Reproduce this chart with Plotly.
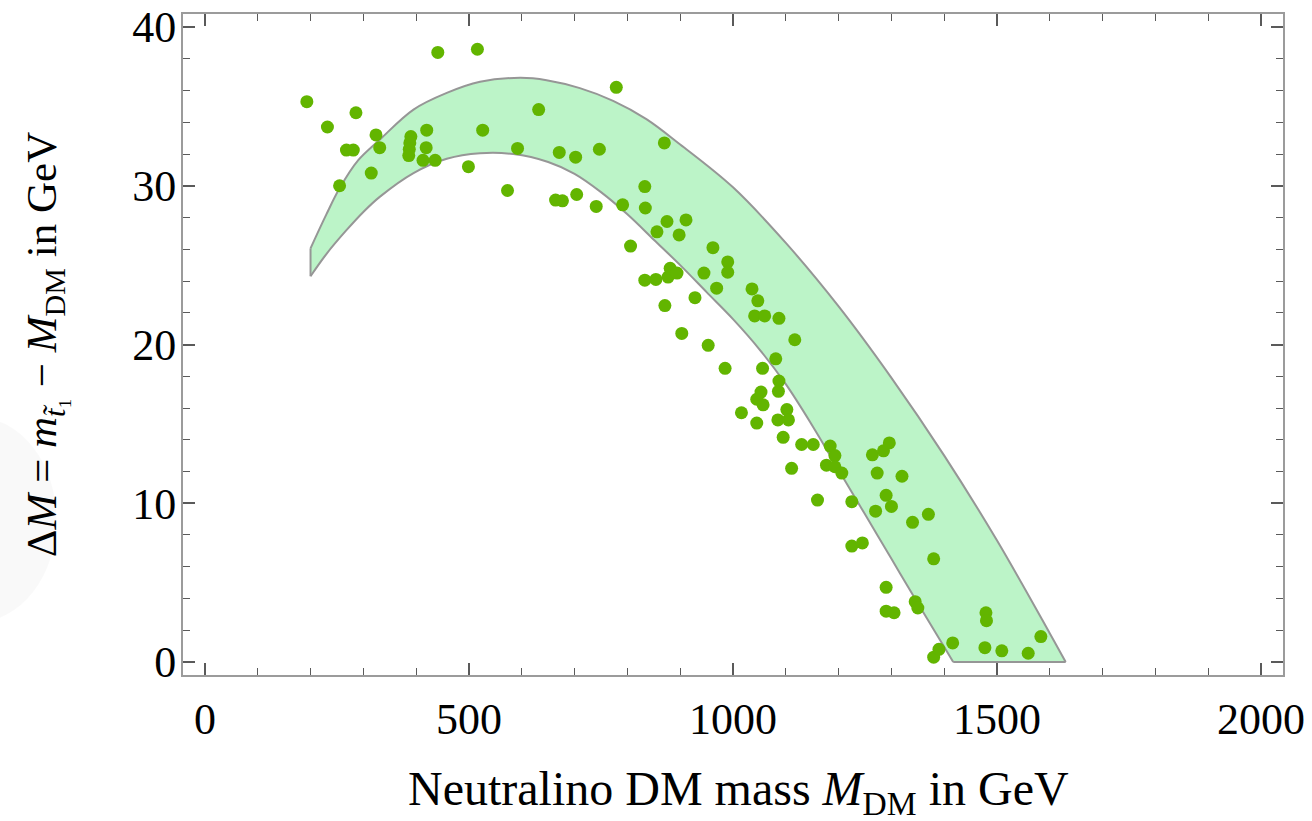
import plotly.graph_objects as go

# ---- scatter data (neutralino DM mass in GeV, mass splitting in GeV) ----
dm_mass = [193, 232, 286, 441, 516, 268, 281, 324, 331, 255, 315,
           390, 388, 387, 386, 420, 419, 413, 436, 499, 526, 573, 592,
           632, 671, 702, 747, 779, 664, 677, 704, 741, 791, 833, 834,
           870, 875, 911, 856, 898, 806, 962, 990, 990, 945, 833, 854,
           877, 881, 894, 969, 1036, 1047, 1041, 1060, 1087, 928, 871,
           903, 1117, 953, 985, 1081, 1056, 1087, 1086, 1053, 1045, 1057,
           1016, 1045, 1102, 1085, 1105, 1095, 1130, 1152, 1184, 1193,
           1264, 1285, 1296, 1111, 1177, 1193, 1206, 1273, 1320,
           1160, 1225, 1245, 1225, 1270, 1290, 1300, 1340, 1370, 1380,
           1290, 1290, 1305, 1345, 1350, 1380, 1390, 1416, 1477, 1479,
           1480, 1509, 1559, 1583]
delta_m = [35.3, 33.7, 34.6, 38.4, 38.6, 32.25, 32.25, 33.2, 32.4, 30.0, 30.8,
           33.1, 32.7, 32.3, 31.9, 33.5, 32.4, 31.6, 31.6, 31.2, 33.5, 29.7, 32.35,
           34.8, 32.1, 31.8, 32.3, 36.2, 29.1, 29.05, 29.45, 28.7, 28.8, 29.95, 28.6,
           32.7, 27.75, 27.85, 27.1, 26.9, 26.2, 26.1, 25.2, 24.55, 24.5, 24.05, 24.1,
           24.25, 24.8, 24.5, 23.55, 23.5, 22.75, 21.8, 21.8, 21.65, 22.95, 22.45,
           20.7, 20.3, 19.95, 18.5, 19.1, 18.5, 17.7, 17.05, 17.0, 16.55, 16.2,
           15.7, 15.05, 15.9, 15.25, 15.25, 14.15, 13.7, 13.7, 13.6, 13.0,
           13.05, 13.3, 13.8, 12.2, 12.4, 12.3, 11.9, 11.9, 11.7,
           10.2, 7.3, 7.5, 10.1, 9.5, 10.5, 9.8, 8.8, 9.3, 6.5,
           4.7, 3.2, 3.1, 3.8, 3.4, 0.3, 0.8, 1.2, 0.9, 3.1,
           2.6, 0.7, 0.55, 1.6]

# ---- allowed band (upper and lower edges) ----
band_upper_x = [200, 230, 256, 290, 331, 395, 458, 521, 597, 647, 710, 773, 836, 900,
                1000, 1100, 1200, 1300, 1400, 1500, 1600, 1630]
band_upper_y = [26.06, 28.2, 29.9, 31.6, 32.9, 34.8, 35.85, 36.55, 36.8, 36.65, 36.15,
                35.35, 34.2, 32.6, 29.9, 26.4, 22.4, 17.9, 13.0, 7.65, 1.8, 0.0]
band_lower_x = [200, 230, 268, 300, 331, 395, 458, 521, 584, 650, 700, 750, 800, 850,
                900, 950, 1000, 1050, 1100, 1150, 1200, 1250, 1300, 1350, 1400, 1417]
band_lower_y = [24.3, 25.7, 27.2, 28.35, 29.3, 30.8, 31.7, 32.05, 32.0, 31.5, 30.75, 29.6,
                28.2, 26.6, 25.0, 23.3, 21.6, 19.7, 17.5, 14.9, 12.1, 9.3, 6.5, 3.7, 0.95, 0.0]

x_ticks = [0, 500, 1000, 1500, 2000]
y_ticks = [0, 10, 20, 30, 40]

FONT = "Liberation Serif"
EDGE = dict(color="rgb(150,150,150)", width=2)

fig = go.Figure()
# upper edge of band
fig.add_trace(go.Scatter(
    x=band_upper_x, y=band_upper_y, mode="lines",
    line=dict(shape="spline", smoothing=1.0, **EDGE),
    hoverinfo="skip", showlegend=False))
# lower edge, filled up to the upper edge
fig.add_trace(go.Scatter(
    x=band_lower_x, y=band_lower_y, mode="lines", fill="tonexty",
    fillcolor="rgb(188,244,200)",
    line=dict(shape="spline", smoothing=1.0, **EDGE),
    hoverinfo="skip", showlegend=False))
# straight closing edges of the band (left side and bottom)
fig.add_trace(go.Scatter(
    x=[band_lower_x[0], band_upper_x[0], None, band_lower_x[-1], band_upper_x[-1]],
    y=[band_lower_y[0], band_upper_y[0], None, band_lower_y[-1], band_upper_y[-1]],
    mode="lines", line=EDGE, hoverinfo="skip", showlegend=False))
fig.add_trace(go.Scatter(
    x=dm_mass, y=delta_m, mode="markers",
    marker=dict(color="rgb(98,181,0)", size=13, line=dict(width=0)),
    showlegend=False))

axis_common = dict(
    showgrid=False, zeroline=False, showline=True, mirror="allticks",
    automargin=False,
    linecolor="rgb(155,155,155)", linewidth=2,
    ticks="inside", tickcolor="rgb(90,90,90)", tickwidth=1.5, ticklen=12,
    tickfont=dict(family=FONT, size=44, color="black"),
)

fig.update_layout(
    width=1312, height=821,
    margin=dict(l=183, r=29, t=14, b=146),
    paper_bgcolor="white", plot_bgcolor="white",
    font=dict(family=FONT, color="black"),
    shapes=[dict(type="circle", xref="paper", yref="paper", layer="below",
                 x0=-0.26, x1=-0.115, y0=0.08, y1=0.39,
                 fillcolor="rgba(0,0,0,0.022)", line=dict(width=0))],
    annotations=[dict(
        text="Neutralino DM mass <i>M</i><sub>DM</sub> in GeV",
        xref="paper", yref="paper", x=0.505, y=-0.177,
        xanchor="center", yanchor="middle", showarrow=False,
        font=dict(family=FONT, size=48, color="black"))],
    xaxis=dict(
        range=[-41.5, 2041.5], tickvals=x_ticks,
        ticktext=[str(v) for v in x_ticks],
        minor=dict(dtick=100, tick0=0, ticks="inside", ticklen=7,
                   tickcolor="rgb(90,90,90)", tickwidth=1.2),
        ticklabelstandoff=4,
        **axis_common),
    yaxis=dict(
        range=[-0.82, 40.82], tickvals=y_ticks,
        ticktext=[str(v) for v in y_ticks],
        minor=dict(dtick=2, tick0=0, ticks="inside", ticklen=7,
                   tickcolor="rgb(90,90,90)", tickwidth=1.2),
        ticklabelstandoff=-4,
        title=dict(text="Δ<i>M</i> = <i>m</i><sub><i>t̃</i>₁</sub> − <i>M</i><sub>DM</sub> in GeV",
                   font=dict(family=FONT, size=43, color="black"), standoff=62),
        **axis_common),
)

fig.write_html("out.html")
